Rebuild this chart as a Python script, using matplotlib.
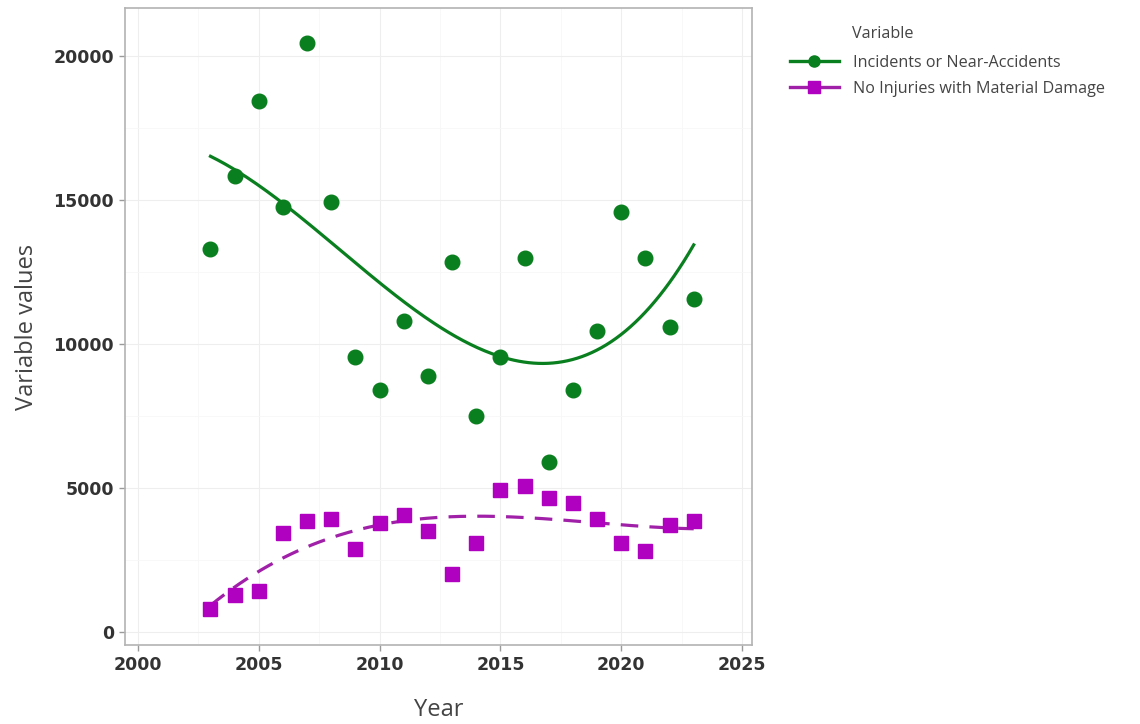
"""
Recria o gráfico de incidentes e danos materiais por ano, com curvas de tendência.
Saída: out.png
"""

import matplotlib

matplotlib.use("Agg")

import matplotlib.pyplot as plt
import numpy as np
from matplotlib.lines import Line2D
from matplotlib.ticker import MultipleLocator

YEARS = list(range(2003, 2024))
INCIDENTS = [
    13300, 15850, 18450, 14750, 20450, 14950, 9550, 8400, 10800, 8900, 12850,
    7500, 9550, 13000, 5900, 8400, 10450, 14600, 13000, 10600, 11550,
]
MATERIAL_DAMAGE = [
    820, 1300, 1420, 3440, 3870, 3920, 2880, 3790, 4080, 3520, 2030,
    3080, 4920, 5060, 4650, 4500, 3940, 3080, 2800, 3730, 3860,
]

LABEL_INCIDENTS = "Incidents or Near-Accidents"
LABEL_DAMAGE = "No Injuries with Material Damage"

COLOR_GREEN = "#0a7f1f"
COLOR_PURPLE = "#b000c0"
COLOR_PURPLE_LINE = "#a020a8"

FONT_TITLE = ["Open Sans", "DejaVu Sans"]
POLY_DEGREE = 3


def trend(x, y, x_new, degree=POLY_DEGREE):
    # ajuste polinomial (equivalente a geom_smooth(method = "lm", formula = y ~ poly(x, 3)))
    x = np.asarray(x, dtype=float)
    coef = np.polyfit(x - 2013, np.asarray(y, dtype=float), degree)
    return np.polyval(coef, np.asarray(x_new) - 2013)


def main():
    fig = plt.figure(figsize=(11.4, 7.24), dpi=100)
    ax = fig.add_axes([0.1096, 0.109, 0.55, 0.88])

    x_smooth = np.linspace(min(YEARS), max(YEARS), 200)

    ax.plot(x_smooth, trend(YEARS, INCIDENTS, x_smooth), color=COLOR_GREEN,
            lw=2.3, zorder=3)
    ax.plot(x_smooth, trend(YEARS, MATERIAL_DAMAGE, x_smooth),
            color=COLOR_PURPLE_LINE, lw=2.3, dashes=(5.5, 3.5), zorder=3)

    ax.plot(YEARS, INCIDENTS, "o", color=COLOR_GREEN, ms=10.5, zorder=4)
    ax.plot(YEARS, MATERIAL_DAMAGE, "s", color=COLOR_PURPLE, ms=10, zorder=4)

    ax.set_xlim(1999.46, 2025.41)
    ax.set_ylim(-450, 21670)
    ax.xaxis.set_major_locator(MultipleLocator(5))
    ax.yaxis.set_major_locator(MultipleLocator(5000))
    ax.xaxis.set_minor_locator(MultipleLocator(2.5))
    ax.yaxis.set_minor_locator(MultipleLocator(2500))

    ax.grid(which="major", color="#eeeeee", lw=0.8)
    ax.grid(which="minor", color="#f7f7f7", lw=0.6)
    ax.set_axisbelow(True)

    for spine in ax.spines.values():
        spine.set_color("#b3b3b3")
        spine.set_linewidth(1.2)

    ax.tick_params(which="major", length=4, width=1, color="#9a9a9a",
                   labelsize=12.5, labelcolor="#333333", pad=4)
    ax.tick_params(which="minor", length=0)
    for lbl in ax.get_xticklabels() + ax.get_yticklabels():
        lbl.set_fontweight("semibold")

    ax.set_xlabel("Year", family=FONT_TITLE, fontsize=17, color="#444444",
                  labelpad=17)
    ax.set_ylabel("Variable values", family=FONT_TITLE, fontsize=17,
                  color="#444444", labelpad=10)

    handles = [
        Line2D([], [], color=COLOR_GREEN, lw=2.4, marker="o", ms=8),
        Line2D([], [], color=COLOR_PURPLE_LINE, lw=2.4, marker="s", ms=8,
               markerfacecolor=COLOR_PURPLE, markeredgecolor=COLOR_PURPLE),
    ]
    leg = fig.legend(
        handles, [LABEL_INCIDENTS, LABEL_DAMAGE],
        loc="upper left", bbox_to_anchor=(0.6855, 0.935), frameon=False,
        prop={"family": FONT_TITLE, "size": 11.6}, handlelength=3.1,
        handletextpad=0.85, labelspacing=0.62, borderpad=0,
    )
    for txt in leg.get_texts():
        txt.set_color("#444444")
    fig.text(852 / 1140, 1 - 34 / 724, "Variable", family=FONT_TITLE,
             fontsize=11.6, color="#444444", ha="left", va="center")

    fig.savefig("out.png", dpi=100)
    plt.close(fig)


if __name__ == "__main__":
    main()
